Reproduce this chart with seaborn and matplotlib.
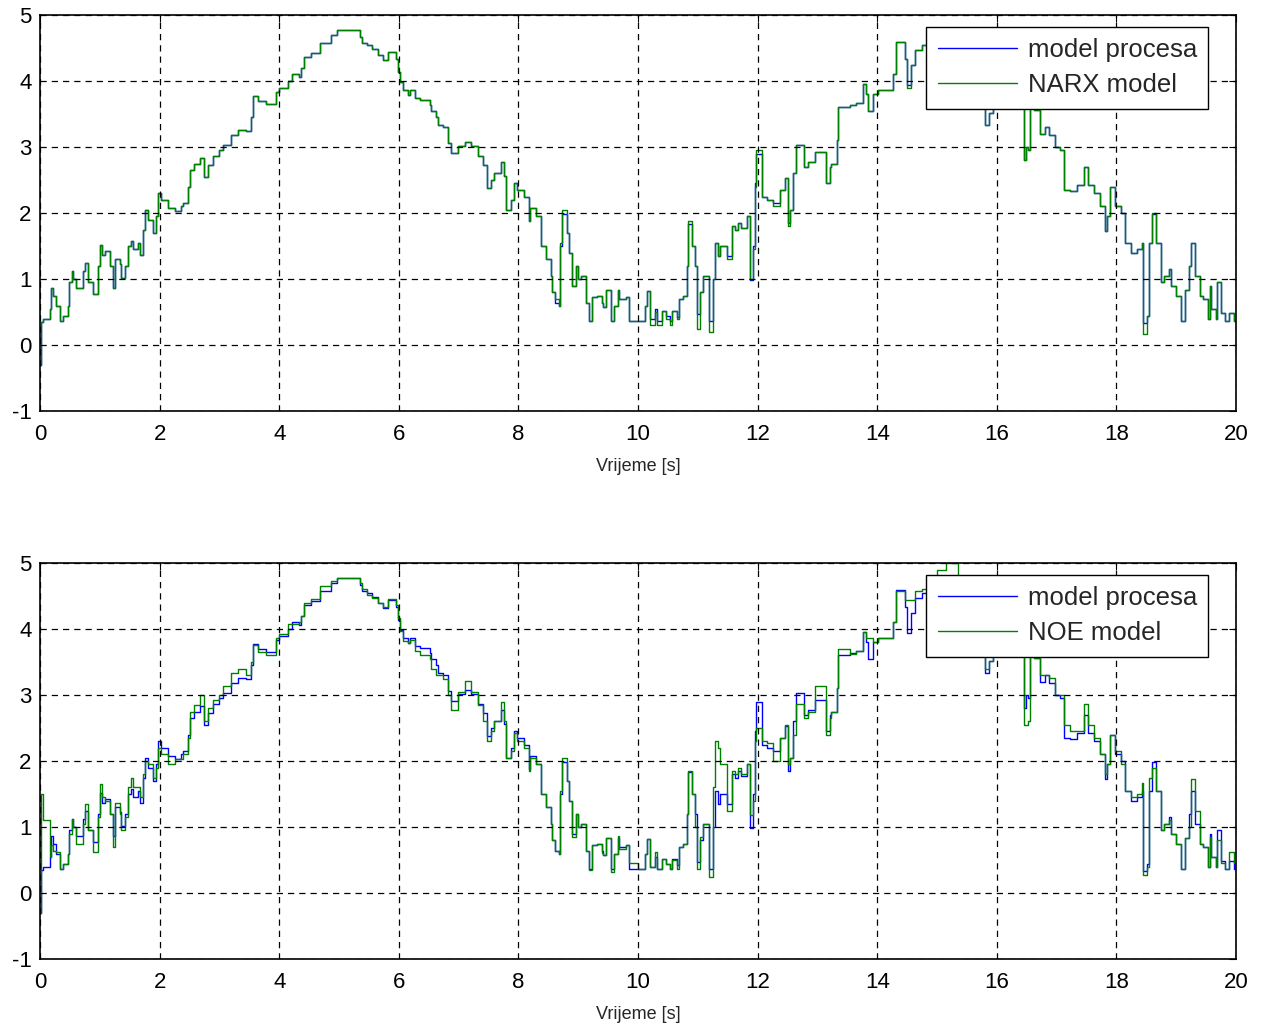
import numpy as np
import pandas as pd
import matplotlib
matplotlib.use("Agg")
import matplotlib.pyplot as plt
import seaborn as sns

# ---- data (breakpoints of step signals) ----
t = [0.00, 0.01, 0.05, 0.17, 0.19, 0.22, 0.26, 0.33, 0.39, 0.46,
     0.49, 0.53, 0.56, 0.61, 0.72, 0.75, 0.80, 0.89, 0.97, 1.00,
     1.03, 1.08, 1.17, 1.22, 1.25, 1.33, 1.36, 1.42, 1.47, 1.53,
     1.56, 1.64, 1.67, 1.72, 1.75, 1.81, 1.89, 1.94, 1.97, 2.03,
     2.14, 2.25, 2.36, 2.39, 2.47, 2.50, 2.58, 2.67, 2.75, 2.81,
     2.89, 3.00, 3.06, 3.19, 3.31, 3.44, 3.53, 3.57, 3.64, 3.78,
     3.94, 4.00, 4.14, 4.22, 4.33, 4.36, 4.42, 4.53, 4.69, 4.86,
     4.97, 5.35, 5.38, 5.46, 5.55, 5.66, 5.74, 5.82, 5.96, 5.99,
     6.02, 6.07, 6.16, 6.18, 6.27, 6.35, 6.52, 6.54, 6.63, 6.65,
     6.74, 6.82, 6.88, 6.99, 7.10, 7.21, 7.32, 7.40, 7.48, 7.54,
     7.60, 7.71, 7.76, 7.79, 7.87, 7.92, 7.98, 8.09, 8.18, 8.20,
     8.29, 8.37, 8.46, 8.54, 8.56, 8.62, 8.68, 8.70, 8.73, 8.82,
     8.85, 8.90, 8.97, 9.00, 9.04, 9.13, 9.18, 9.23, 9.31, 9.40,
     9.42, 9.46, 9.55, 9.60, 9.66, 9.69, 9.80, 9.85, 10.00, 10.12,
     10.15, 10.20, 10.29, 10.32, 10.40, 10.46, 10.54, 10.57, 10.65, 10.68,
     10.76, 10.82, 10.84, 10.90, 10.96, 10.98, 11.04, 11.09, 11.18, 11.26,
     11.29, 11.34, 11.37, 11.48, 11.57, 11.62, 11.68, 11.73, 11.82, 11.87,
     11.93, 11.96, 11.98, 12.07, 12.15, 12.26, 12.37, 12.46, 12.51, 12.54,
     12.59, 12.65, 12.77, 12.84, 12.96, 13.15, 13.21, 13.23, 13.32, 13.34,
     13.54, 13.65, 13.76, 13.82, 13.84, 13.93, 14.01, 14.26, 14.32, 14.46,
     14.50, 14.56, 14.64, 14.75, 14.85, 15.00, 15.15, 15.35, 15.50, 15.62,
     15.72, 15.81, 15.87, 15.93, 16.05, 16.15, 16.25, 16.32, 16.45, 16.49,
     16.52, 16.56, 16.63, 16.72, 16.80, 16.88, 16.97, 17.05, 17.13, 17.22,
     17.34, 17.45, 17.53, 17.62, 17.73, 17.81, 17.84, 17.90, 17.98, 18.07,
     18.15, 18.24, 18.35, 18.43, 18.45, 18.52, 18.55, 18.60, 18.66, 18.74,
     18.80, 18.88, 18.91, 19.00, 19.08, 19.14, 19.22, 19.25, 19.31, 19.39,
     19.44, 19.53, 19.56, 19.59, 19.67, 19.69, 19.75, 19.81, 19.89, 19.97,
     20.00]

y_proces = [-0.30, 0.35, 0.39, 0.54, 0.87, 0.74, 0.59, 0.37, 0.44, 0.59,
     0.95, 1.12, 1.00, 0.87, 1.12, 1.25, 0.95, 0.77, 1.20, 1.52,
     1.37, 1.42, 1.20, 0.87, 1.30, 1.22, 1.02, 1.20, 1.50, 1.57,
     1.45, 1.55, 1.37, 1.75, 2.05, 1.90, 1.70, 1.95, 2.30, 2.20,
     2.08, 2.03, 2.10, 2.15, 2.40, 2.65, 2.75, 2.83, 2.55, 2.73,
     2.86, 2.96, 3.03, 3.18, 3.26, 3.24, 3.46, 3.77, 3.69, 3.65,
     3.84, 3.89, 4.00, 4.10, 4.06, 4.19, 4.37, 4.42, 4.57, 4.69,
     4.78, 4.67, 4.57, 4.54, 4.49, 4.39, 4.32, 4.44, 4.34, 4.14,
     3.99, 3.86, 3.79, 3.86, 3.74, 3.71, 3.64, 3.54, 3.46, 3.34,
     3.31, 3.06, 2.91, 3.01, 3.08, 3.01, 2.86, 2.73, 2.38, 2.50,
     2.61, 2.78, 2.56, 2.05, 2.20, 2.45, 2.35, 2.25, 1.88, 2.07,
     1.95, 1.50, 1.30, 1.05, 0.80, 0.64, 0.59, 1.50, 1.98, 1.70,
     1.40, 0.90, 1.20, 1.00, 1.05, 0.64, 0.37, 0.72, 0.74, 0.64,
     0.57, 0.84, 0.37, 0.59, 0.84, 0.70, 0.72, 0.37, 0.37, 0.59,
     0.82, 0.39, 0.54, 0.37, 0.52, 0.44, 0.37, 0.52, 0.42, 0.69,
     0.74, 1.20, 1.83, 1.50, 1.20, 0.47, 0.80, 1.05, 0.37, 1.00,
     1.55, 1.35, 1.50, 1.35, 1.80, 1.75, 1.85, 1.77, 1.95, 0.98,
     1.50, 2.45, 2.90, 2.25, 2.20, 2.15, 2.35, 2.53, 1.85, 2.05,
     2.60, 3.03, 2.70, 2.78, 2.92, 2.45, 2.70, 2.75, 3.10, 3.61,
     3.64, 3.66, 3.96, 3.81, 3.54, 3.81, 3.86, 4.10, 4.59, 4.34,
     3.94, 4.24, 4.47, 4.55, 4.65, 4.72, 4.80, 4.75, 4.60, 4.40,
     4.10, 3.34, 3.51, 3.90, 3.98, 3.85, 3.72, 3.59, 2.80, 3.00,
     2.96, 3.61, 3.56, 3.20, 3.31, 3.18, 3.00, 2.96, 2.35, 2.33,
     2.43, 2.70, 2.43, 2.30, 2.10, 1.73, 1.95, 2.40, 2.10, 2.00,
     1.55, 1.40, 1.45, 1.55, 0.34, 0.44, 1.55, 1.98, 1.55, 0.95,
     1.05, 1.15, 0.90, 0.74, 0.37, 0.84, 1.20, 1.55, 1.05, 0.74,
     0.70, 0.39, 0.90, 0.54, 0.39, 0.95, 0.49, 0.37, 0.49, 0.37,
     0.37]

y_narx = [-0.30, 0.35, 0.39, 0.54, 0.87, 0.74, 0.59, 0.37, 0.44, 0.59,
     0.95, 1.12, 1.00, 0.87, 1.12, 1.25, 0.95, 0.77, 1.20, 1.52,
     1.37, 1.42, 1.20, 0.87, 1.30, 1.22, 1.02, 1.20, 1.50, 1.57,
     1.45, 1.55, 1.37, 1.75, 2.05, 1.90, 1.70, 1.95, 2.30, 2.20,
     2.08, 2.03, 2.10, 2.15, 2.40, 2.65, 2.75, 2.83, 2.55, 2.73,
     2.86, 2.96, 3.03, 3.18, 3.26, 3.24, 3.46, 3.77, 3.69, 3.65,
     3.84, 3.89, 4.00, 4.10, 4.06, 4.19, 4.37, 4.42, 4.57, 4.69,
     4.78, 4.67, 4.57, 4.54, 4.49, 4.39, 4.32, 4.44, 4.34, 4.14,
     3.99, 3.86, 3.79, 3.86, 3.74, 3.71, 3.64, 3.54, 3.46, 3.34,
     3.31, 3.06, 2.91, 3.01, 3.08, 3.01, 2.86, 2.73, 2.38, 2.50,
     2.61, 2.78, 2.56, 2.05, 2.20, 2.45, 2.35, 2.25, 1.88, 2.07,
     1.95, 1.50, 1.30, 1.05, 0.80, 0.70, 0.59, 1.55, 2.05, 1.70,
     1.40, 0.90, 1.20, 1.00, 1.05, 0.64, 0.37, 0.72, 0.74, 0.64,
     0.57, 0.84, 0.37, 0.59, 0.84, 0.70, 0.72, 0.37, 0.37, 0.59,
     0.82, 0.30, 0.50, 0.30, 0.52, 0.40, 0.30, 0.52, 0.40, 0.69,
     0.74, 1.20, 1.88, 1.50, 1.20, 0.25, 0.80, 1.05, 0.20, 1.00,
     1.55, 1.35, 1.50, 1.30, 1.80, 1.75, 1.85, 1.77, 1.95, 1.00,
     1.45, 2.40, 2.95, 2.25, 2.20, 2.10, 2.35, 2.53, 1.80, 2.05,
     2.60, 3.03, 2.70, 2.78, 2.92, 2.45, 2.70, 2.75, 3.10, 3.61,
     3.64, 3.66, 3.96, 3.81, 3.54, 3.81, 3.86, 4.10, 4.59, 4.34,
     3.90, 4.24, 4.47, 4.55, 4.65, 4.72, 4.80, 4.75, 4.60, 4.40,
     4.10, 3.34, 3.51, 3.90, 3.98, 3.85, 3.72, 3.59, 2.80, 3.00,
     2.96, 3.61, 3.56, 3.20, 3.31, 3.18, 3.00, 2.96, 2.35, 2.33,
     2.43, 2.70, 2.43, 2.30, 2.10, 1.73, 1.95, 2.40, 2.10, 2.00,
     1.55, 1.40, 1.45, 1.55, 0.16, 0.44, 1.55, 2.00, 1.55, 0.95,
     1.05, 1.15, 0.90, 0.74, 0.37, 0.84, 1.20, 1.55, 1.05, 0.74,
     0.70, 0.39, 0.90, 0.54, 0.39, 0.95, 0.49, 0.37, 0.49, 0.37,
     0.37]

y_noe = [-0.30, 1.50, 1.10, 0.55, 0.72, 0.64, 0.62, 0.37, 0.44, 0.59,
     0.90, 1.12, 1.00, 0.74, 1.05, 1.35, 0.95, 0.62, 1.15, 1.65,
     1.45, 1.40, 1.20, 0.69, 1.37, 1.20, 0.95, 1.15, 1.60, 1.75,
     1.60, 1.60, 1.45, 1.80, 2.00, 1.95, 1.75, 1.90, 2.20, 2.10,
     1.96, 2.03, 2.03, 2.10, 2.35, 2.75, 2.85, 3.00, 2.60, 2.80,
     2.93, 3.00, 3.13, 3.33, 3.40, 3.31, 3.50, 3.76, 3.65, 3.61,
     3.86, 3.92, 4.08, 4.08, 4.10, 4.19, 4.39, 4.45, 4.65, 4.72,
     4.78, 4.70, 4.60, 4.52, 4.47, 4.39, 4.34, 4.45, 4.36, 4.16,
     3.97, 3.82, 3.79, 3.84, 3.66, 3.61, 3.55, 3.40, 3.31, 3.31,
     3.24, 3.00, 2.78, 3.05, 3.21, 3.05, 2.85, 2.60, 2.30, 2.45,
     2.60, 2.90, 2.60, 2.05, 2.15, 2.42, 2.30, 2.20, 1.85, 2.05,
     1.95, 1.50, 1.30, 1.05, 0.80, 0.64, 0.59, 1.55, 2.05, 1.70,
     1.40, 0.85, 1.20, 1.00, 1.05, 0.64, 0.35, 0.72, 0.74, 0.60,
     0.57, 0.84, 0.32, 0.59, 0.86, 0.66, 0.72, 0.45, 0.37, 0.59,
     0.82, 0.39, 0.62, 0.37, 0.52, 0.44, 0.37, 0.50, 0.37, 0.69,
     0.74, 1.20, 1.85, 1.50, 1.00, 0.37, 0.85, 1.05, 0.25, 1.60,
     2.30, 2.20, 1.95, 1.25, 1.85, 1.80, 1.90, 1.80, 1.95, 1.18,
     1.40, 2.30, 2.50, 2.30, 2.28, 2.00, 2.35, 2.55, 1.95, 2.05,
     2.40, 2.86, 2.65, 2.75, 3.13, 2.40, 2.65, 2.75, 3.10, 3.69,
     3.62, 3.66, 3.96, 3.86, 3.86, 3.81, 3.86, 4.10, 4.57, 4.44,
     4.44, 4.44, 4.57, 4.60, 4.70, 4.90, 5.00, 4.80, 4.60, 4.40,
     4.10, 3.40, 3.51, 3.90, 3.98, 3.85, 3.72, 3.59, 2.55, 2.55,
     2.60, 3.61, 3.56, 3.31, 3.31, 3.26, 3.00, 3.00, 2.55, 2.46,
     2.46, 2.86, 2.55, 2.35, 2.10, 1.80, 1.95, 2.40, 2.15, 1.95,
     1.55, 1.45, 1.50, 1.67, 0.27, 0.40, 1.75, 1.90, 1.55, 0.95,
     1.05, 1.10, 0.90, 0.74, 0.37, 0.84, 1.00, 1.72, 1.24, 0.74,
     0.70, 0.39, 0.85, 0.54, 0.39, 0.80, 0.45, 0.37, 0.62, 0.45,
     0.37]

x_ticks = [0, 2, 4, 6, 8, 10, 12, 14, 16, 18, 20]
y_ticks = [-1, 0, 1, 2, 3, 4, 5]
label_proces = "model procesa"
labels_model = ["NARX model", "NOE model"]
x_label = "Vrijeme [s]"

assert len(t) == len(y_proces) == len(y_narx) == len(y_noe)

# ---- style ----
sns.set_style("white")
plt.rcParams["font.family"] = ["Liberation Sans", "DejaVu Sans"]

W, H = 1267, 1032
fig = plt.figure(figsize=(W / 100, H / 100), dpi=100)

def px_axes(left, top, right, bottom):
    return fig.add_axes([left / W, 1 - bottom / H, (right - left) / W, (bottom - top) / H])

ax1 = px_axes(40, 15, 1236, 411)
ax2 = px_axes(40, 563, 1236, 959)

blue = (0.0, 0.0, 1.0)
green = (0.0, 0.5, 0.0)

for ax, y_model, lab in [(ax1, y_narx, labels_model[0]), (ax2, y_noe, labels_model[1])]:
    df = pd.DataFrame({"t": t, "proces": y_proces, "model": y_model})
    sns.lineplot(data=df, x="t", y="proces", ax=ax, color=blue, lw=1.0,
                 drawstyle="steps-post", estimator=None, label=label_proces)
    sns.lineplot(data=df, x="t", y="model", ax=ax, color=green, lw=1.0,
                 drawstyle="steps-post", estimator=None, label=lab)
    ax.set_xlim(0, 20)
    ax.set_ylim(-1, 5)
    ax.set_xticks(x_ticks)
    ax.set_yticks(y_ticks)
    ax.set_xticklabels([str(v) for v in x_ticks])
    ax.set_yticklabels([str(v) for v in y_ticks])
    ax.grid(True, color="black", linestyle=(0, (5, 4)), linewidth=0.9)
    ax.set_axisbelow(False)
    ax.tick_params(axis="both", direction="in", length=5, width=0.8,
                   labelsize=16, top=True, right=True, colors="black")
    ax.tick_params(axis="x", pad=9)
    ax.tick_params(axis="y", pad=6)
    for s in ax.spines.values():
        s.set_color("black")
        s.set_linewidth(1.2)
    ax.set_xlabel(x_label, fontsize=13, labelpad=10)
    ax.set_ylabel("")
    leg = ax.legend(loc="upper right", bbox_to_anchor=(0.977, 0.97), borderaxespad=0,
                    fontsize=18.5, handlelength=3.1, handletextpad=0.4,
                    frameon=True, fancybox=False, framealpha=1.0, edgecolor="black",
                    borderpad=0.45, labelspacing=0.42)
    leg.get_frame().set_linewidth(1.0)

fig.savefig("out.png", dpi=100)
